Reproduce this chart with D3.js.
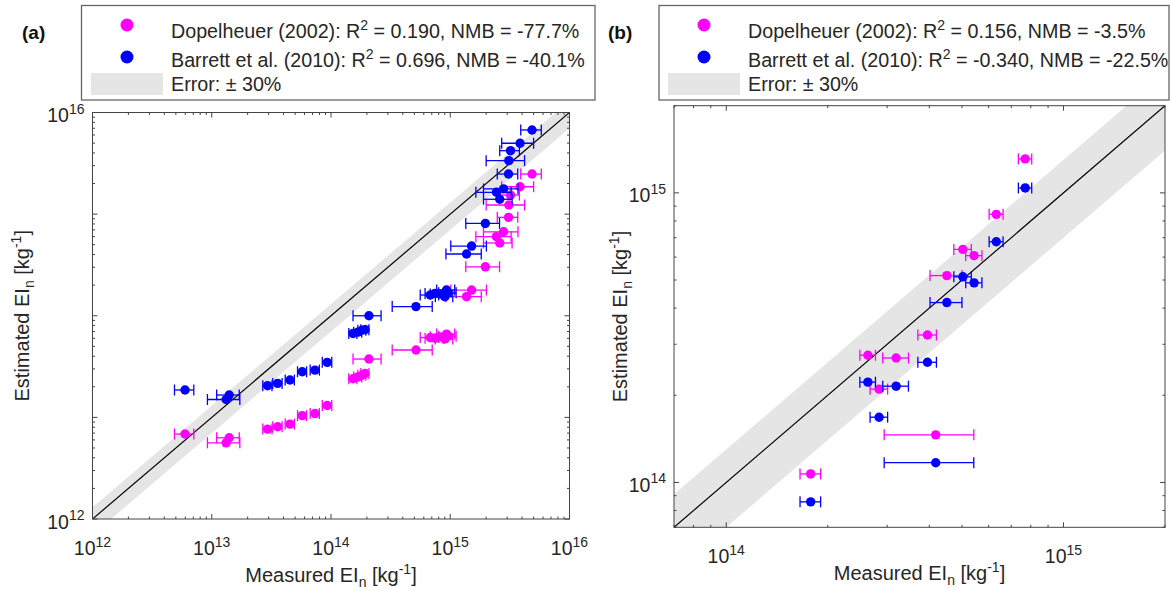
<!DOCTYPE html>
<html>
<head>
<meta charset="utf-8">
<script src="https://cdn.jsdelivr.net/npm/d3@7"></script>
<style>
body { margin: 0; background: #fff; }
svg { display: block; font-family: "Liberation Sans", Arial, sans-serif; }
</style>
</head>
<body>
<svg id="chart" width="1171" height="591"></svg>
<script>
// ---- panel (a) data ----
const measuredA = [4.85e15, 3.85e15, 3.2e15, 3.1e15, 3.08e15, 2.8e15, 2.44e15, 2.6e15, 1.97e15, 1.51e15, 1.37e15,
    5.16e14, 6.8e14, 7.45e14, 8.2e14, 9.0e14, 9.3e14, 9.6e14, 2.08e14,
    1.53e14, 1.68e14, 1.82e14, 1.93e14,
    9.3e13, 7.34e13, 5.74e13, 4.53e13, 3.57e13, 2.94e13, 1.40e13, 1.32e13, 5.97e12];
const measuredErrA = [0.95e15, 1.15e15, 0.6e15, 1.1e15, 0.6e15, 0.9e15, 0.8e15, 0.7e15, 0.62e15, 0.5e15, 0.45e15,
    1.9e14, 1.2e14, 1.3e14, 1.4e14, 1.5e14, 1.6e14, 1.6e14, 0.55e14,
    1.2e13, 1.3e13, 1.4e13, 1.5e13,
    0.85e13, 0.65e13, 0.5e13, 0.4e13, 0.32e13, 0.26e13, 0.3e13, 0.4e13, 1.1e12];
const dopelheuerA = [2.48e15, 1.86e15, 1.54e15, 1.23e15, 9.3e14, 6.7e14, 6.0e14, 5.2e14, 3.03e14, 1.79e14, 1.54e14,
    4.6e13, 6.1e13, 6.0e13, 6.2e13, 5.9e13, 6.6e13, 6.3e13, 3.75e13,
    2.4e13, 2.5e13, 2.6e13, 2.7e13,
    1.31e13, 1.09e13, 1.04e13, 8.59e12, 8.08e12, 7.67e12, 6.3e12, 5.62e12, 6.86e12];
const barrettA = [6.73e15, 4.98e15, 4.21e15, 3.36e15, 2.48e15, 1.77e15, 1.64e15, 1.40e15, 8.1e14, 4.85e14, 4.05e14,
    1.23e14, 1.60e14, 1.66e14, 1.64e14, 1.54e14, 1.79e14, 1.68e14, 1.0e14,
    6.7e13, 6.9e13, 7.2e13, 7.3e13,
    3.48e13, 2.92e13, 2.81e13, 2.33e13, 2.16e13, 2.05e13, 1.66e13, 1.50e13, 1.86e13];

// ---- panel (b) data ----
const measuredB = [7.7e14, 6.32e14, 5.03e14, 5.43e14, 4.51e14, 3.95e14, 2.63e14, 3.19e14, 2.84e14, 4.18e14, 1.78e14];
const measuredErrB = [3.5e13, 3.0e13, 3.0e13, 3.0e13, 4.9e13, 2.5e13, 1.4e13, 2.8e13, 1.7e13, 1.24e14, 1.25e13];
const dopelheuerB = [1.31e15, 8.43e14, 6.38e14, 6.07e14, 5.18e14, 3.23e14, 2.75e14, 2.69e14, 2.10e14, 1.46e14, 1.07e14];
const barrettB = [1.04e15, 6.78e14, 5.13e14, 4.89e14, 4.18e14, 2.60e14, 2.22e14, 2.15e14, 1.68e14, 1.17e14, 8.57e13];

// axis limits and labelled ticks
const domainA = [1e12, 1e16];
const domainB = [7e13, 2e15];
const xTickLabelsA = [1e12, 1e13, 1e14, 1e15, 1e16];
const yTickLabelsA = [1e12, 1e16];
const xTickLabelsB = [1e14, 1e15];
const yTickLabelsB = [1e14, 1e15];

const errorBand = [0.7, 1.3];   // +/- 30%

const legendA = [
    { pre: "Dopelheuer (2002): R", sup: "2", post: " = 0.190, NMB = -77.7%" },
    { pre: "Barrett et al. (2010): R", sup: "2", post: " = 0.696, NMB = -40.1%" },
    { pre: "Error: \u00b1 30%", sup: "", post: "" }
];
const legendB = [
    { pre: "Dopelheuer (2002): R", sup: "2", post: " = 0.156, NMB = -3.5%" },
    { pre: "Barrett et al. (2010): R", sup: "2", post: " = -0.340, NMB = -22.5%" },
    { pre: "Error: \u00b1 30%", sup: "", post: "" }
];

const colors = { dopel: "#ff00ff", barrett: "#0000ff", band: "#e5e5e5", axis: "#444", text: "#262626" };

const svg = d3.select("#chart");

function tickLabel(g, v, x, y, anchor) {
    const e = Math.round(Math.log10(v));
    const t = g.append("text")
        .attr("x", x).attr("y", y)
        .attr("text-anchor", anchor)
        .attr("fill", colors.text)
        .style("font-size", "19.5px");
    t.append("tspan").text("10");
    t.append("tspan").attr("dy", -8.5).style("font-size", "14px").text(e);
}

function axisTitle(g, x, y, rotate) {
    const t = g.append("text")
        .attr("text-anchor", "middle")
        .attr("fill", colors.text)
        .style("font-size", "20px")
        .attr("transform", `translate(${x},${y})` + (rotate ? " rotate(-90)" : ""));
    t.append("tspan").text(rotate ? "Estimated EI" : "Measured EI");
    t.append("tspan").attr("dy", 5).style("font-size", "14px").text("n");
    t.append("tspan").attr("dy", -5).text(" [kg");
    t.append("tspan").attr("dy", -8).style("font-size", "14px").text("-1");
    t.append("tspan").attr("dy", 8).text("]");
}

function drawPanel(p) {
    const g = svg.append("g");
    const x = d3.scaleLog().domain(p.domain).range([p.left, p.right]);
    const y = d3.scaleLog().domain(p.domain).range([p.bottom, p.top]);

    const clipId = "clip-" + p.id;
    svg.append("clipPath").attr("id", clipId)
        .append("rect")
        .attr("x", p.left).attr("y", p.top)
        .attr("width", p.right - p.left).attr("height", p.bottom - p.top);

    const inner = g.append("g").attr("clip-path", `url(#${clipId})`);

    // +/-30% band and 1:1 line
    const ext = [p.domain[0] / 3, p.domain[1] * 3];
    inner.append("path")
        .datum(ext)
        .attr("fill", colors.band)
        .attr("d", d3.area()
            .x(d => x(d))
            .y0(d => y(d * errorBand[0]))
            .y1(d => y(d * errorBand[1])));
    inner.append("path")
        .datum(ext)
        .attr("fill", "none")
        .attr("stroke", "#000")
        .attr("stroke-width", 1.2)
        .attr("d", d3.line().x(d => x(d)).y(d => y(d)));

    // error bars + markers
    const series = [
        { values: p.dopel, color: colors.dopel },
        { values: p.barrett, color: colors.barrett }
    ];
    const cap = 5.5;
    series.forEach(s => {
        const sg = g.append("g").attr("stroke", s.color).attr("stroke-width", 1.3);
        p.measured.forEach((m, i) => {
            const yy = y(s.values[i]);
            const x0 = x(m - p.err[i]), x1 = x(m + p.err[i]);
            sg.append("line").attr("x1", x0).attr("x2", x1).attr("y1", yy).attr("y2", yy);
            sg.append("line").attr("x1", x0).attr("x2", x0).attr("y1", yy - cap).attr("y2", yy + cap);
            sg.append("line").attr("x1", x1).attr("x2", x1).attr("y1", yy - cap).attr("y2", yy + cap);
        });
        g.append("g").selectAll("circle")
            .data(p.measured)
            .enter()
            .append("circle")
            .attr("cx", d => x(d))
            .attr("cy", (d, i) => y(s.values[i]))
            .attr("r", 4.7)
            .attr("fill", s.color);
    });

    // box with inward ticks on every side
    g.append("rect")
        .attr("x", p.left).attr("y", p.top)
        .attr("width", p.right - p.left).attr("height", p.bottom - p.top)
        .attr("fill", "none").attr("stroke", colors.axis).attr("stroke-width", 1);

    const isMajor = v => Math.abs(Math.log10(v) - Math.round(Math.log10(v))) < 1e-9;
    const tg = g.append("g").attr("stroke", colors.axis).attr("stroke-width", 1);
    x.ticks().forEach(v => {
        const len = isMajor(v) ? 5 : 2.5;
        const xx = x(v);
        tg.append("line").attr("x1", xx).attr("x2", xx).attr("y1", p.bottom).attr("y2", p.bottom - len);
        tg.append("line").attr("x1", xx).attr("x2", xx).attr("y1", p.top).attr("y2", p.top + len);
    });
    y.ticks().forEach(v => {
        const len = isMajor(v) ? 5 : 2.5;
        const yy = y(v);
        tg.append("line").attr("x1", p.left).attr("x2", p.left + len).attr("y1", yy).attr("y2", yy);
        tg.append("line").attr("x1", p.right).attr("x2", p.right - len).attr("y1", yy).attr("y2", yy);
    });

    p.xLabels.forEach(v => tickLabel(g, v, x(v), p.bottom + 36, "middle"));
    p.yLabels.forEach(v => tickLabel(g, v, p.left - 8, y(v) + 9.5, "end"));

    axisTitle(g, (p.left + p.right) / 2, p.xTitleY, false);
    axisTitle(g, p.yTitleX, (p.top + p.bottom) / 2, true);

    // panel letter
    g.append("text")
        .attr("x", p.letterX).attr("y", 39)
        .attr("fill", "#111")
        .style("font-size", "19px").style("font-weight", "bold")
        .text(`(${p.id})`);

    // legend
    const L = p.legend;
    const lg = g.append("g");
    lg.append("rect")
        .attr("x", L.x0).attr("y", 5.5)
        .attr("width", L.x1 - L.x0).attr("height", 94.5)
        .attr("fill", "#fff").attr("stroke", "#666").attr("stroke-width", 1.3);
    lg.append("circle").attr("cx", L.markX).attr("cy", 25).attr("r", 6.5).attr("fill", colors.dopel);
    lg.append("circle").attr("cx", L.markX).attr("cy", 57).attr("r", 6.5).attr("fill", colors.barrett);
    lg.append("rect")
        .attr("x", L.markX - 36).attr("y", 73)
        .attr("width", 72).attr("height", 22)
        .attr("fill", colors.band);
    const baselines = [37.5, 67, 90.5];
    p.legendItems.forEach((item, i) => {
        const t = lg.append("text")
            .attr("x", L.textX).attr("y", baselines[i])
            .attr("fill", colors.text)
            .style("font-size", "19.7px");
        t.append("tspan").text(item.pre);
        if (item.sup) {
            t.append("tspan").attr("dy", -8).style("font-size", "14px").text(item.sup);
            t.append("tspan").attr("dy", 8).text(item.post);
        }
    });
}

drawPanel({
    id: "a", domain: domainA,
    left: 92.5, right: 569.5, top: 112.5, bottom: 519,
    measured: measuredA, err: measuredErrA, dopel: dopelheuerA, barrett: barrettA,
    xLabels: xTickLabelsA, yLabels: yTickLabelsA,
    xTitleY: 582, yTitleX: 29, letterX: 22,
    legend: { x0: 81.5, x1: 595, markX: 127, textX: 171 },
    legendItems: legendA
});

drawPanel({
    id: "b", domain: domainB,
    left: 674, right: 1165, top: 105.7, bottom: 527.3,
    measured: measuredB, err: measuredErrB, dopel: dopelheuerB, barrett: barrettB,
    xLabels: xTickLabelsB, yLabels: yTickLabelsB,
    xTitleY: 580, yTitleX: 627, letterX: 608,
    legend: { x0: 659, x1: 1169, markX: 704, textX: 748 },
    legendItems: legendB
});
</script>
</body>
</html>
